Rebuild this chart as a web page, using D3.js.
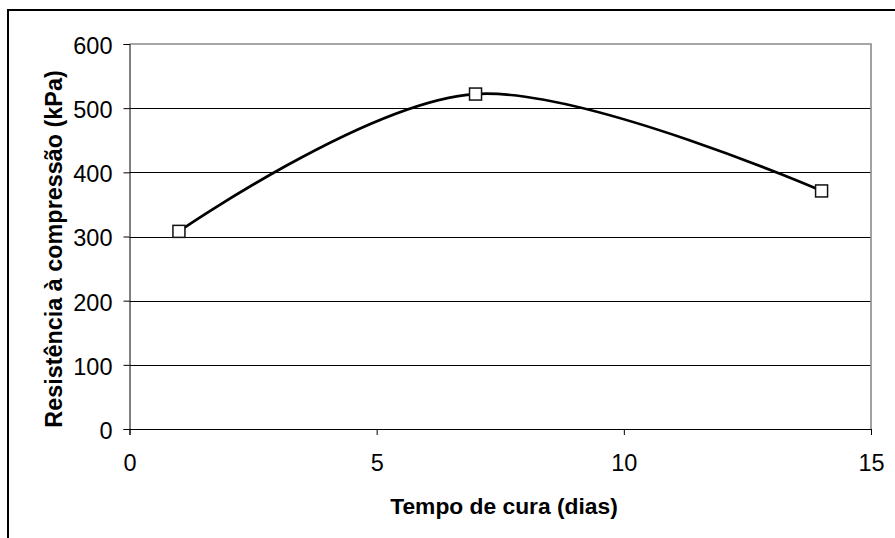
<!DOCTYPE html>
<html>
<head>
<meta charset="utf-8">
<script src="https://cdn.jsdelivr.net/npm/d3@7"></script>
<style>
  html, body { margin: 0; padding: 0; background: #fff; }
  svg { display: block; }
  text { font-family: "Liberation Sans", Arial, sans-serif; fill: #000; }
</style>
</head>
<body>
<svg id="chart" width="895" height="538"></svg>
<script>
// Curing time (days) and compressive strength (kPa)
const days = [1, 7, 14];
const strength = [308, 522, 371];
const xTicks = [0, 5, 10, 15];
const yTicks = [0, 100, 200, 300, 400, 500, 600];
const xTitle = "Tempo de cura (dias)";
const yTitle = "Resistência à compressão (kPa)";

const svg = d3.select("#chart");
const plot = { left: 129.5, right: 871, top: 44, bottom: 429 };

const x = d3.scaleLinear().domain([0, 15]).range([plot.left, plot.right]);
const y = d3.scaleLinear().domain([0, 600]).range([plot.bottom, plot.top]);

// outer frame (runs past the right and bottom edges)
svg.append("rect")
  .attr("x", 8).attr("y", 10).attr("width", 920).attr("height", 600)
  .attr("fill", "none").attr("stroke", "#000").attr("stroke-width", 2);

// horizontal gridlines
svg.append("g").selectAll("line")
  .data(yTicks.filter(v => v > 0 && v < 600))
  .join("line")
  .attr("x1", plot.left).attr("x2", plot.right)
  .attr("y1", d => Math.round(y(d)) + 0.5).attr("y2", d => Math.round(y(d)) + 0.5)
  .attr("stroke", "#000").attr("stroke-width", 1);

// plot area border (top and right)
svg.append("path")
  .attr("d", `M${plot.left},${plot.top}H${plot.right}V${plot.bottom}`)
  .attr("fill", "none").attr("stroke", "#8a8a8a").attr("stroke-width", 1.6);

// axes
const yAxis = d3.axisLeft(y).tickValues(yTicks).tickSize(6).tickPadding(11);
const xAxis = d3.axisBottom(x).tickValues(xTicks).tickSize(6).tickPadding(19);

const gy = svg.append("g").attr("transform", `translate(${plot.left},0)`).call(yAxis);
const gx = svg.append("g").attr("transform", `translate(0,${plot.bottom})`).call(xAxis);

[gx, gy].forEach(g => {
  g.select(".domain").attr("stroke", "#000").attr("stroke-width", 1);
  g.selectAll(".tick line").attr("stroke", "#000").attr("stroke-width", 1);
  g.selectAll(".tick text")
    .attr("font-family", "Liberation Sans, Arial, sans-serif")
    .attr("font-size", 23.5).attr("fill", "#000");
});
gy.selectAll(".tick text").attr("dy", "0.4em");

// axis titles
svg.append("text")
  .attr("x", 504).attr("y", 514)
  .attr("text-anchor", "middle")
  .attr("font-size", 22.8).attr("font-weight", "bold")
  .text(xTitle);

svg.append("text")
  .attr("transform", "translate(62,249) rotate(-90)")
  .attr("text-anchor", "middle")
  .attr("font-size", 23.4).attr("font-weight", "bold")
  .text(yTitle);

// smoothed series line
const pts = days.map((d, i) => [d, strength[i]]);
const line = d3.line()
  .x(d => x(d[0])).y(d => y(d[1]))
  .curve(d3.curveCardinal.tension(0));

svg.append("path")
  .datum(pts)
  .attr("d", line)
  .attr("fill", "none").attr("stroke", "#000")
  .attr("stroke-width", 2.7).attr("stroke-linejoin", "round");

// square markers
const s = 12;
svg.append("g").selectAll("rect")
  .data(pts)
  .join("rect")
  .attr("x", d => x(d[0]) - s / 2).attr("y", d => y(d[1]) - s / 2)
  .attr("width", s).attr("height", s)
  .attr("fill", "#fff").attr("stroke", "#111").attr("stroke-width", 1.5);
</script>
</body>
</html>
